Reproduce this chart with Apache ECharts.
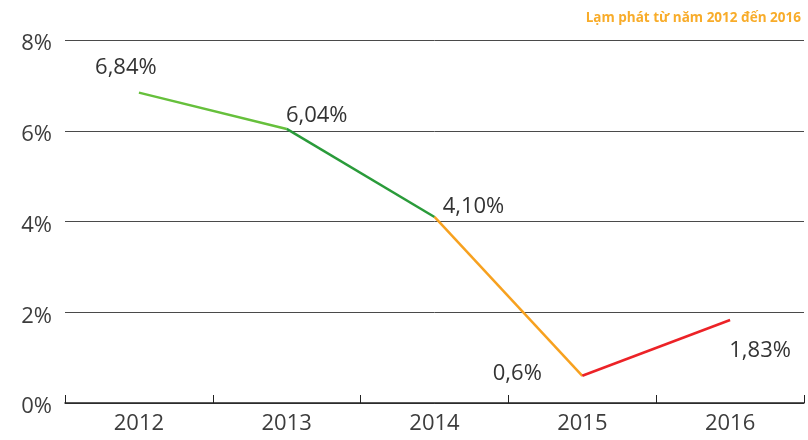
<!DOCTYPE html>
<html>
<head>
<meta charset="utf-8">
<script src="https://cdn.jsdelivr.net/npm/echarts@6/dist/echarts.min.js"></script>
<style>html,body{margin:0;padding:0;background:#fff}#c{width:808px;height:440px}</style>
</head>
<body>
<div id="c"></div>
<script>
var categories = ['2012', '2013', '2014', '2015', '2016'];
var inflation = [6.84, 6.04, 4.10, 0.6, 1.83];
var valueLabels = ['6,84%', '6,04%', '4,10%', '0,6%', '1,83%'];
var yTicks = [0, 2, 4, 6, 8];
var titleText = 'Lạm phát từ năm 2012 đến 2016';

var segmentColors = ['#66c03c', '#2a9b3a', '#f7a11f', '#ec2227'];
var labelOffsets = [[-13, -25], [30, -13], [39, -10], [-65, -2], [30, 31]];

var FONT = '"Open Sans", "Noto Sans", sans-serif';
var chart = echarts.init(document.getElementById('c'), null, {renderer: 'canvas'});

var series = [];
for (var i = 0; i < inflation.length - 1; i++) {
  var d = inflation.map(function (v, k) { return (k === i || k === i + 1) ? v : '-'; });
  series.push({
    type: 'line', data: d, symbol: 'none', silent: true,
    connectNulls: false,
    lineStyle: {color: segmentColors[i], width: 2.5},
    z: 3
  });
}
series.push({
  type: 'scatter', symbolSize: 1, silent: true,
  itemStyle: {color: '#ffffff', opacity: 0},
  data: inflation.map(function (v, k) {
    return {
      value: v,
      label: {
        show: true, position: 'inside', align: 'center', verticalAlign: 'middle',
        offset: labelOffsets[k], formatter: valueLabels[k],
        fontFamily: FONT, fontSize: 22, color: '#333333',
        textBorderWidth: 0, textBorderColor: 'transparent', opacity: 1
      }
    };
  }),
  z: 5
});

chart.setOption({
  animation: false,
  title: {
    text: titleText, right: 2, top: 6,
    textStyle: {fontFamily: FONT, fontSize: 13.5, fontWeight: 'bold', color: '#f8ac2a'}
  },
  grid: {left: 65, right: 4, top: 40, bottom: 37, containLabel: false},
  xAxis: {
    type: 'category', data: categories, boundaryGap: true,
    axisLine: {show: true, lineStyle: {color: '#222', width: 1.5}},
    axisTick: {show: true, inside: true, length: 8, lineStyle: {color: '#222', width: 1}},
    axisLabel: {fontFamily: FONT, fontSize: 22, color: '#3d3d3d', margin: 10}
  },
  yAxis: {
    type: 'value', min: yTicks[0], max: yTicks[yTicks.length - 1], interval: 2,
    axisLine: {show: false}, axisTick: {show: false},
    splitLine: {show: true, lineStyle: {color: '#4a4a4a', width: 1}},
    axisLabel: {margin: 13,
      formatter: function (v) { return '{a|' + v + '%}'; },
      rich: {a: {fontFamily: FONT, fontSize: 22, color: '#3d3d3d', padding: [8, 0, 0, 0]}}}
  },
  series: series
});
</script>
</body>
</html>
